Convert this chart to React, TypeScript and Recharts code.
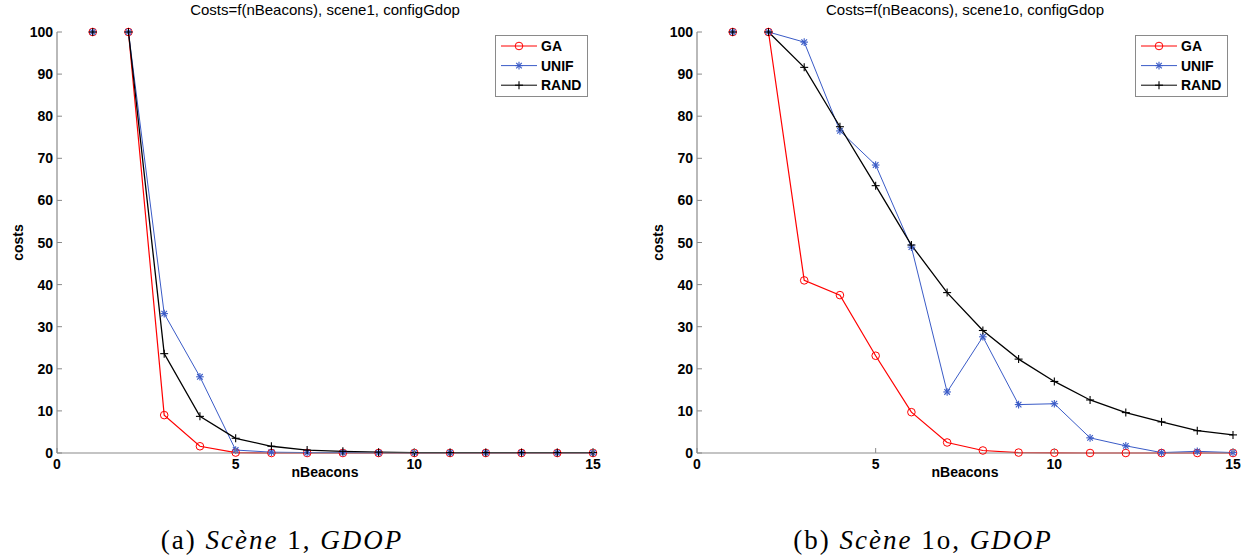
import React from "react";
import { LineChart, Line, XAxis, YAxis } from "recharts";

document.body.style.margin = "0";

const nBeacons = [1, 2, 3, 4, 5, 6, 7, 8, 9, 10, 11, 12, 13, 14, 15];
const xTicks = [0, 5, 10, 15];
const yTicks = [0, 10, 20, 30, 40, 50, 60, 70, 80, 90, 100];

// scene 1
const gaScene1 = [100, 100, 9.0, 1.6, 0.1, 0, 0, 0, 0, 0, 0, 0, 0, 0, 0];
const unifScene1 = [100, 100, 33.1, 18.1, 0.7, 0.2, 0.1, 0.1, 0.05, 0.05, 0.05, 0.05, 0.05, 0.05, 0.05];
const randScene1 = [100, 100, 23.6, 8.7, 3.5, 1.6, 0.7, 0.4, 0.2, 0.1, 0.1, 0.1, 0.1, 0.1, 0.1];

// scene 1o
const gaScene1o = [100, 100, 41.0, 37.5, 23.1, 9.7, 2.5, 0.6, 0.1, 0.05, 0, 0, 0, 0, 0];
const unifScene1o = [100, 100, 97.6, 76.5, 68.4, 48.9, 14.5, 27.6, 11.5, 11.7, 3.6, 1.7, 0.1, 0.4, 0.1];
const randScene1o = [100, 100, 91.6, 77.5, 63.5, 49.4, 38.1, 29.1, 22.3, 17.0, 12.6, 9.6, 7.4, 5.3, 4.3];

const titles = ["Costs=f(nBeacons), scene1, configGdop", "Costs=f(nBeacons), scene1o, configGdop"];
const seriesNames = ["GA", "UNIF", "RAND"];

const RED = "#ff0000";
const BLUE = "#3a5bc7";
const BLACK = "#000000";
const AXIS = "#8a8a8a";
const FONT = "'Liberation Sans', Arial, sans-serif";

const PLOT_TOP = 32;
const PLOT_LEFT = 57;
const CHART_H = 500;
const X_AXIS_H = 47;
const PLOT_BOTTOM = CHART_H - X_AXIS_H;

// first point is plotted on its own in the original (no segment 1 -> 2)
const buildRows = (ga: number[], unif: number[], rand: number[]) =>
  nBeacons.map((n, i) => ({
    n,
    ga: i === 0 ? null : ga[i],
    unif: i === 0 ? null : unif[i],
    rand: i === 0 ? null : rand[i],
    ga0: i === 0 ? ga[i] : null,
    unif0: i === 0 ? unif[i] : null,
    rand0: i === 0 ? rand[i] : null,
  }));

const circleMark = (x: number, y: number, key?: any) => (
  <circle key={key} cx={x} cy={y} r={3.8} fill="none" stroke={RED} strokeWidth={1} />
);
const starMark = (x: number, y: number, key?: any) => (
  <g key={key} stroke={BLUE} strokeWidth={1.1}>
    <line x1={x - 3.8} y1={y} x2={x + 3.8} y2={y} />
    <line x1={x} y1={y - 3.8} x2={x} y2={y + 3.8} />
    <line x1={x - 2.8} y1={y - 2.8} x2={x + 2.8} y2={y + 2.8} />
    <line x1={x - 2.8} y1={y + 2.8} x2={x + 2.8} y2={y - 2.8} />
  </g>
);
const plusMark = (x: number, y: number, key?: any) => (
  <g key={key} stroke={BLACK} strokeWidth={1.1}>
    <line x1={x - 4} y1={y} x2={x + 4} y2={y} />
    <line x1={x} y1={y - 4} x2={x} y2={y + 4} />
  </g>
);

const makeDot = (mark: (x: number, y: number, key?: any) => React.ReactElement) => (props: any) => {
  const { cx, cy, value, index } = props;
  if (cx == null || cy == null || value == null) return <g key={`e-${index}`} />;
  return mark(cx, cy, `d-${index}`);
};

// matlab style: ticks point inward
const XTick = (props: any) => {
  const { x, payload } = props;
  return (
    <g>
      <line x1={x} y1={PLOT_BOTTOM} x2={x} y2={PLOT_BOTTOM - 5} stroke={AXIS} strokeWidth={1} />
      <text x={x} y={PLOT_BOTTOM + 11} textAnchor="middle" dominantBaseline="central" fontFamily={FONT} fontSize={14} fontWeight="bold" fill="#000">
        {payload.value}
      </text>
    </g>
  );
};

const YTick = (props: any) => {
  const { y, payload } = props;
  return (
    <g>
      <line x1={PLOT_LEFT} y1={y} x2={PLOT_LEFT + 5} y2={y} stroke={AXIS} strokeWidth={1} />
      <text x={PLOT_LEFT - 4} y={y} textAnchor="end" dominantBaseline="central" fontFamily={FONT} fontSize={14} fontWeight="bold" fill="#000">
        {payload.value}
      </text>
    </g>
  );
};

const LegendBox = ({ left, top }: { left: number; top: number }) => {
  const marks = [circleMark, starMark, plusMark];
  const colors = [RED, BLUE, BLACK];
  return (
    <div
      style={{
        position: "absolute",
        left,
        top,
        width: 93,
        height: 62,
        border: `1px solid ${AXIS}`,
        background: "#fff",
        boxSizing: "border-box",
      }}
    >
      <svg width={91} height={60} style={{ display: "block" }}>
        {seriesNames.map((name, i) => {
          const y = 10 + i * 19.6;
          return (
            <g key={name}>
              <line x1={5} y1={y} x2={41} y2={y} stroke={colors[i]} strokeWidth={1} />
              {marks[i](23, y)}
              <text x={45} y={y} dominantBaseline="central" fontFamily={FONT} fontSize={14} fontWeight="bold" fill="#000">
                {name}
              </text>
            </g>
          );
        })}
      </svg>
    </div>
  );
};

const Panel = ({ rows, title, left, width, right }: { rows: any[]; title: string; left: number; width: number; right: number }) => {
  const plotRight = width - right;
  const center = (PLOT_LEFT + plotRight) / 2;
  return (
    <div style={{ position: "absolute", left, top: 0, width, height: CHART_H }}>
      <div
        style={{
          position: "absolute",
          left: center - 250,
          width: 500,
          top: 1,
          textAlign: "center",
          fontFamily: FONT,
          fontSize: 15,
          color: "#000",
          whiteSpace: "nowrap",
        }}
      >
        {title}
      </div>
      <LineChart width={width} height={CHART_H} data={rows} margin={{ top: PLOT_TOP, right, left: 0, bottom: 0 }}>
        <XAxis
          type="number"
          dataKey="n"
          domain={[0, 15]}
          ticks={xTicks}
          stroke={AXIS}
          strokeWidth={1.2}
          tickLine={false}
          tick={<XTick />}
          height={X_AXIS_H}
          label={(p: any) => {
            const vb = p.viewBox;
            return (
              <text x={vb.x + vb.width / 2} y={vb.y + 19} textAnchor="middle" dominantBaseline="central" fontFamily={FONT} fontSize={14} fontWeight="bold" fill="#000">
                nBeacons
              </text>
            );
          }}
        />
        <YAxis
          type="number"
          domain={[0, 100]}
          ticks={yTicks}
          stroke={AXIS}
          strokeWidth={1.2}
          tickLine={false}
          tick={<YTick />}
          width={PLOT_LEFT}
          label={(p: any) => {
            const vb = p.viewBox;
            const cy = vb.y + vb.height / 2;
            return (
              <text x={18} y={cy} transform={`rotate(-90 18 ${cy})`} textAnchor="middle" dominantBaseline="central" fontFamily={FONT} fontSize={14} fontWeight="bold" fill="#000">
                costs
              </text>
            );
          }}
        />
        <Line dataKey="ga" stroke={RED} strokeWidth={1.2} dot={makeDot(circleMark)} isAnimationActive={false} />
        <Line dataKey="unif" stroke={BLUE} strokeWidth={1} dot={makeDot(starMark)} isAnimationActive={false} />
        <Line dataKey="rand" stroke={BLACK} strokeWidth={1.3} dot={makeDot(plusMark)} isAnimationActive={false} />
        <Line dataKey="ga0" stroke="none" dot={makeDot(circleMark)} isAnimationActive={false} legendType="none" />
        <Line dataKey="unif0" stroke="none" dot={makeDot(starMark)} isAnimationActive={false} legendType="none" />
        <Line dataKey="rand0" stroke="none" dot={makeDot(plusMark)} isAnimationActive={false} legendType="none" />
      </LineChart>
      <LegendBox left={495} top={35} />
    </div>
  );
};

const Caption = ({ label, scene, center }: { label: string; scene: string; center: number }) => (
  <div
    style={{
      position: "absolute",
      left: center - 200,
      width: 400,
      top: 525,
      textAlign: "center",
      fontFamily: "'Liberation Serif', 'Times New Roman', serif",
      fontSize: 27,
      letterSpacing: 2,
      color: "#000",
      whiteSpace: "nowrap",
      lineHeight: "30px",
    }}
  >
    {label} <i>Scène</i> {scene}, <i>GDOP</i>
  </div>
);

export default function App() {
  const rows1 = buildRows(gaScene1, unifScene1, randScene1);
  const rows1o = buildRows(gaScene1o, unifScene1o, randScene1o);
  return (
    <div style={{ position: "relative", width: 1251, height: 560, background: "#fff", overflow: "hidden" }}>
      <Panel rows={rows1} title={titles[0]} left={0} width={620} right={27} />
      <Panel rows={rows1o} title={titles[1]} left={640} width={611} right={18} />
      <Caption label="(a)" scene="1" center={282} />
      <Caption label="(b)" scene="1o" center={923} />
    </div>
  );
}
